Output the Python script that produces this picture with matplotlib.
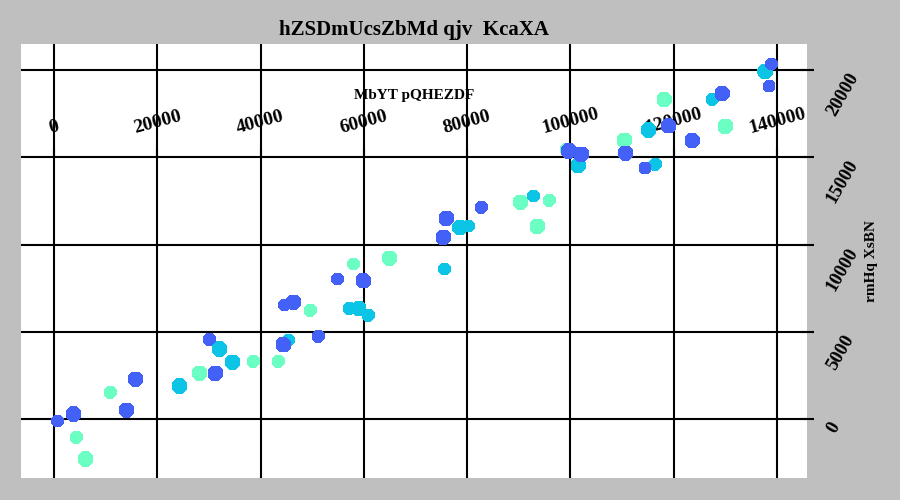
import numpy as np
import matplotlib
matplotlib.use("Agg")
import matplotlib.pyplot as plt

plt.rcParams['font.family'] = ['Liberation Serif', 'DejaVu Serif']
plt.rcParams['font.weight'] = 'bold'

title = "hZSDmUcsZbMd qjv  KcaXA"
xlabel = "MbYT pQHEZDF"
ylabel = "rmHq XsBN"

xticks = [0, 20000, 40000, 60000, 80000, 100000, 120000, 140000]
yticks = [0, 5000, 10000, 15000, 20000]

# series values; size 1 = big marker, 0 = small
blue_x = [640, 3740, 14000, 15750, 31230, 30080, 44400, 51180, 44600, 46340,
          54860, 59900, 75390, 75970, 82750, 99700, 102090, 110630, 114440,
          119000, 123570, 129390, 138930, 138470]
blue_y = [-115, 290, 500, 2275, 2620, 4570, 4260, 4740, 6530, 6690,
          8020, 7930, 10410, 11500, 12130, 15360, 15170, 15230, 14380,
          16810, 15950, 18660, 20340, 19080]
blue_big = [0, 1, 1, 1, 1, 0, 1, 0, 0, 1, 0, 1, 1, 1, 0, 1, 1, 1, 0, 1, 1, 1, 0, 0]

cyan_x = [24270, 32010, 34530, 45370, 57180, 59000, 60860, 75580, 78620, 80230,
          92810, 101510, 116430, 115080, 127450, 137700]
cyan_y = [1890, 4010, 3250, 4530, 6340, 6340, 5940, 8600, 10980, 11060,
          12780, 14520, 14590, 16560, 18320, 19920]
cyan_big = [1, 1, 1, 0, 0, 1, 0, 0, 1, 0, 0, 1, 0, 1, 0, 1]

mint_x = [4300, 6070, 10900, 28140, 38600, 43430, 49630, 57960, 64930, 90300,
          95900, 93580, 99120, 110430, 118150, 129970]
mint_y = [-1050, -2290, 1530, 2620, 3300, 3300, 6230, 8880, 9210, 12420,
          12530, 11040, 15460, 15970, 18320, 16780]
mint_big = [0, 1, 0, 1, 0, 0, 0, 0, 1, 1, 0, 1, 0, 1, 1, 1]

fig = plt.figure(figsize=(9, 5), dpi=100, facecolor='#bfbfbf')
ax = fig.add_axes([21 / 900, 22 / 500, 786 / 900, 434 / 500])
ax.set_facecolor('white')
ax.set_axisbelow(True)


def sizes(big):
    return [125 if b else 82 for b in big]


ax.scatter(mint_x, mint_y, s=sizes(mint_big), c='#6cffc4', marker='8',
           linewidths=0, antialiased=False, zorder=2)
ax.scatter(cyan_x, cyan_y, s=sizes(cyan_big), c='#0bc4e6', marker='8',
           linewidths=0, antialiased=False, zorder=2)
ax.scatter(blue_x, blue_y, s=sizes(blue_big), c='#4361f7', marker='8',
           linewidths=0, antialiased=False, zorder=2)

ax.set_xlim(-6400, 145800)
ax.set_ylim(-3380, 21490)
ax.set_xticks(xticks)
ax.set_yticks(yticks)
ax.grid(True, color='black', linewidth=1.5)

for s in ax.spines.values():
    s.set_visible(False)
ax.spines['top'].set_position(('data', 15000))

ax.xaxis.tick_top()
ax.yaxis.tick_right()
ax.tick_params(axis='x', direction='out', length=6, width=1.5, pad=9,
               labelsize=14, labelrotation=15)
ax.tick_params(axis='y', direction='inout', length=10, width=1.5, pad=7,
               labelsize=13.5, labelrotation=60)
for lab in ax.get_xticklabels():
    lab.set_fontweight('bold')
for lab in ax.get_yticklabels():
    lab.set_fontweight('bold')
    lab.set_va('top')

ax.set_xlabel(xlabel, fontsize=11, fontweight='bold')
ax.xaxis.set_label_position('top')
ax.xaxis.set_label_coords(0.5, (478 - 95) / 434)
ax.xaxis.label.set_va('center')

ax.set_ylabel(ylabel, fontsize=11, fontweight='bold', rotation=90)
ax.yaxis.set_label_position('right')
ax.yaxis.set_label_coords((871 - 21) / 786, 0.5)
ax.yaxis.label.set_va('center')
ax.yaxis.label.set_ha('center')

fig.text(414 / 900, 1 - 30 / 500, title, ha='center', va='center',
         fontsize=15, fontweight='bold')

plt.savefig("out.png", dpi=100, facecolor=fig.get_facecolor())
